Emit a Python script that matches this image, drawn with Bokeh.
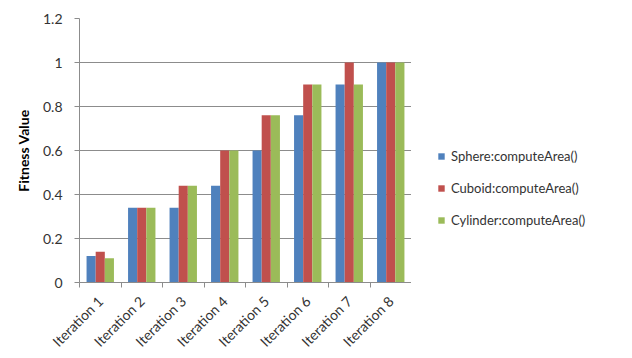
from math import pi
from bokeh.plotting import figure
from bokeh.layouts import row
from bokeh.models import ColumnDataSource, FixedTicker, Legend, LegendItem, Range1d
from bokeh.embed import file_html
from bokeh.resources import INLINE

categories = ["Iteration 1", "Iteration 2", "Iteration 3", "Iteration 4",
              "Iteration 5", "Iteration 6", "Iteration 7", "Iteration 8"]
series_names = ["Sphere:computeArea()", "Cuboid:computeArea()", "Cylinder:computeArea()"]
sphere = [0.12, 0.34, 0.34, 0.44, 0.60, 0.76, 0.90, 1.00]
cuboid = [0.14, 0.34, 0.44, 0.60, 0.76, 0.90, 1.00, 1.00]
cylinder = [0.11, 0.34, 0.44, 0.60, 0.76, 0.90, 0.90, 1.00]
y_ticks = [0, 0.2, 0.4, 0.6, 0.8, 1.0, 1.2]
y_tick_labels = ["0", "0.2", "0.4", "0.6", "0.8", "1", "1.2"]

colors = ["#4F81BD", "#C0504D", "#9BBB59"]
font = "Lato"
grey = "#8C8C8C"

p = figure(width=411, height=358, output_backend="svg", toolbar_location=None,
           x_range=Range1d(0, len(categories)), y_range=Range1d(0, 1.2),
           min_border_left=79, min_border_top=18, min_border_bottom=74,
           min_border_right=0)
p.outline_line_color = None
p.background_fill_color = "white"
p.border_fill_color = "white"

centers = [i + 0.5 for i in range(len(categories))]
bw = 0.22
offsets = [-bw, 0.0, bw]
for vals, off, col in zip([sphere, cuboid, cylinder], offsets, colors):
    src = ColumnDataSource(dict(x=[c + off for c in centers], top=vals))
    p.vbar(x="x", top="top", width=bw, bottom=0, source=src,
           fill_color=col, line_color=None)

# x axis
p.xaxis.ticker = FixedTicker(ticks=centers, minor_ticks=list(range(len(categories) + 1)))
p.xaxis.major_label_overrides = {c: lab for c, lab in zip(centers, categories)}
p.xaxis.major_label_orientation = pi / 4
p.xaxis.major_label_standoff = 10
p.xaxis.major_tick_line_color = None
p.xaxis.minor_tick_out = 5
p.xaxis.minor_tick_in = 0
p.xaxis.minor_tick_line_color = grey
p.xaxis.axis_line_color = grey
p.xaxis.major_label_text_font = font
p.xaxis.major_label_text_font_size = "14px"
p.xaxis.major_label_text_color = "#333333"
p.xgrid.grid_line_color = None

# y axis
p.yaxis.ticker = FixedTicker(ticks=y_ticks, minor_ticks=[])
p.yaxis.major_label_overrides = {t: lab for t, lab in zip(y_ticks, y_tick_labels)}
p.yaxis.major_tick_out = 5
p.yaxis.major_tick_in = 0
p.yaxis.major_label_standoff = 12
p.yaxis.major_tick_line_color = grey
p.yaxis.axis_line_color = grey
p.yaxis.major_label_text_font = font
p.yaxis.major_label_text_font_size = "14px"
p.yaxis.major_label_text_color = "#333333"
p.yaxis.axis_label = "Fitness Value"
p.yaxis.axis_label_text_font = font
p.yaxis.axis_label_text_font_size = "14px"
p.yaxis.axis_label_text_font_style = "bold"
p.yaxis.axis_label_text_color = "#000000"
p.yaxis.axis_label_standoff = 8
p.ygrid.grid_line_color = grey
p.ygrid.ticker = FixedTicker(ticks=y_ticks)

# legend panel
p2 = figure(width=221, height=358, output_backend="svg", toolbar_location=None,
            x_range=Range1d(0, 1), y_range=Range1d(0, 1),
            min_border=0, min_border_left=0, min_border_right=0,
            min_border_top=0, min_border_bottom=0)
p2.axis.visible = False
p2.grid.visible = False
p2.outline_line_color = None
p2.border_fill_color = "white"
dummies = []
for col in colors:
    src = ColumnDataSource(dict(x=[5.0], top=[0.0]))
    dummies.append(p2.vbar(x="x", top="top", width=0.1, source=src,
                           fill_color=col, line_color=None))

legend = Legend(items=[LegendItem(label=n, renderers=[r]) for n, r in zip(series_names, dummies)],
                location=(26, 53), margin=0, padding=0, spacing=14,
                glyph_width=8, glyph_height=8, label_standoff=6, label_height=18,
                label_text_font=font, label_text_font_size="13px",
                label_text_color="#333333", border_line_color=None,
                background_fill_alpha=0)
p2.add_layout(legend, "center")

layout = row(p, p2, spacing=0)
open("out.html", "w").write(file_html(layout, INLINE))
